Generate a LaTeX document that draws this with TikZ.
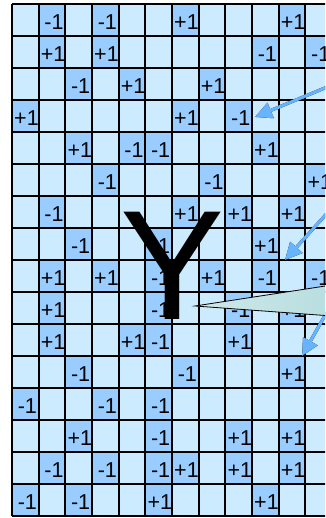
\documentclass[tikz,border=0pt]{standalone}
\usepackage{fontspec}
\setmainfont{Liberation Sans}
\usetikzlibrary{arrows.meta}
\definecolor{cellbg}{HTML}{CCEBFF}
\definecolor{cellhi}{HTML}{99CCFF}
\definecolor{pointer}{HTML}{66B3FF}
\definecolor{wedge}{HTML}{B8DEDF}
\tikzset{
  spin/.style={
    rectangle,
    fill=cellhi,
    anchor=north west,
    text width=22.667pt,
    inner xsep=2pt,
    inner ysep=0pt,
    minimum height=32pt,
    text height=18.4pt,
    text depth=0pt,
    align=right,
    font=\fontsize{21.5}{21.5}\selectfont
  },
  gridline/.style={
    draw=black,
    line width=2.2pt
  },
  bigletter/.style={
    anchor=base,
    inner sep=0pt,
    font=\fontsize{156}{156}\selectfont
  },
  pointer_arrow/.style={
    -{Triangle[length=17pt,width=16pt]},
    draw=pointer,
    line width=3pt
  },
  pointer_shade/.style={
    pointer_arrow,
    draw=black,
    shift={(1.8,2)}
  },
  callout/.style={
    draw=black,
    line width=0.8pt,
    left color=wedge!70!white,
    right color=wedge
  }
}

\begin{document}
\begin{tikzpicture}[x=1pt,y=-1pt]
  \useasboundingbox (0,0) rectangle (325,518);
  \clip (0,0) rectangle (325,518);

  % lattice of spins
  \fill[cellbg] (12,4) rectangle (332,516);
  \foreach \r/\c/\v in {
      0/1/-1, 0/3/-1, 0/6/+1, 0/10/+1,
      1/1/+1, 1/3/+1, 1/9/-1, 1/11/-1,
      2/2/-1, 2/4/+1, 2/7/+1,
      3/0/+1, 3/6/+1, 3/8/-1,
      4/2/+1, 4/4/-1, 4/5/-1, 4/9/+1,
      5/3/-1, 5/7/-1, 5/11/+1,
      6/1/-1, 6/6/+1, 6/8/+1, 6/10/+1,
      7/2/-1, 7/5/-1, 7/9/+1,
      8/1/+1, 8/3/+1, 8/5/-1, 8/7/+1, 8/9/-1, 8/11/-1,
      9/1/+1, 9/5/-1, 9/8/-1, 9/10/+1,
      10/1/+1, 10/4/+1, 10/5/-1, 10/8/+1,
      11/2/-1, 11/6/-1, 11/10/+1,
      12/0/-1, 12/3/-1, 12/5/-1,
      13/2/+1, 13/5/-1, 13/8/+1, 13/10/+1,
      14/1/-1, 14/3/-1, 14/5/-1, 14/6/+1, 14/8/+1, 14/10/+1,
      15/0/-1, 15/2/-1, 15/5/+1, 15/9/+1}
    \node[spin] (s-\r-\c) at ({12+26.667*\c},{4+32*\r}) {\v};

  \foreach \k in {0,...,12}
    \draw[gridline] ({12+26.667*\k},4) -- ({12+26.667*\k},516);
  \foreach \k in {0,...,16}
    \draw[gridline] (12,{4+32*\k}) -- (332,{4+32*\k});

  \node[bigletter] (spinY) at (172.3,319) {Y};

  % pointers from the right
  \coordinate (from-a) at (332,85);
  \coordinate (to-a) at (255,117);
  \coordinate (from-b) at (330,210);
  \coordinate (to-b) at (285,260);
  \coordinate (from-c) at (328,310);
  \coordinate (to-c) at (302,356);
  \foreach \p in {a,b,c} {
    \draw[pointer_shade] (from-\p) -- (to-\p);
    \draw[pointer_arrow] (from-\p) -- (to-\p);
  }

  \coordinate (apex) at (195,306);
  \coordinate (wedge-top) at (332,285);
  \coordinate (wedge-bot) at (332,316);
  \draw[callout] (apex) -- (wedge-top) -- (wedge-bot) -- cycle;
\end{tikzpicture}
\end{document}
